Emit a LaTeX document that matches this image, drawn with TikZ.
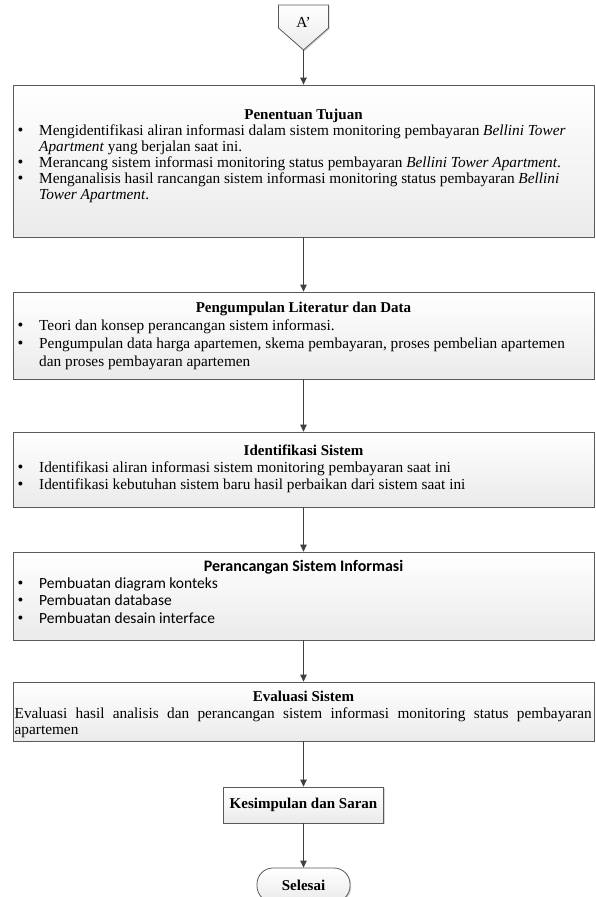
\documentclass[tikz,border=0pt]{standalone}
\usepackage{fontspec}
\setmainfont{Liberation Serif}
\newfontfamily\calfont{Carlito}
\usetikzlibrary{arrows.meta,shadows}
\definecolor{boxline}{HTML}{5A5A5A}
\definecolor{arrowc}{HTML}{404040}
\begin{document}
\begin{tikzpicture}[x=1pt,y=-1pt,
  box/.style={rectangle, draw=boxline, line width=0.8pt, top color=white, bottom color=gray!16,
    drop shadow={shadow xshift=1.2pt,shadow yshift=-1.2pt,fill=gray!70,opacity=0.45}, inner sep=0pt},
  flow/.style={draw=arrowc, line width=1pt, -{Triangle[length=7pt,width=6.5pt]}},
  fs/.style={font=\fontsize{15.3}{17}\selectfont},
  txt/.style={fs, anchor=base west, inner sep=0pt},
  ttl/.style={anchor=base, inner sep=0pt, font=\fontsize{15}{17}\selectfont\bfseries},
  bul/.style={anchor=base, inner sep=0pt, font=\fontsize{16.5}{17}\selectfont},
  stxt/.style={anchor=base west, inner sep=0pt, font=\calfont\fontsize{15.5}{17}\selectfont},
  sttl/.style={anchor=base, inner sep=0pt, font=\calfont\fontsize{16}{17}\selectfont\bfseries}
]
\useasboundingbox[fill=white] (0,0) rectangle (595,897);

% off-page connector
\draw[draw=boxline, line width=0.8pt, top color=white, bottom color=gray!16,
  drop shadow={shadow xshift=1.2pt,shadow yshift=-1.2pt,fill=gray!70,opacity=0.45}]
  (278.5,5) -- (328.5,5) -- (328.5,28) -- (303.5,50) -- (278.5,28) -- cycle;
\coordinate (tip) at (303.5,50);
\node[fs, inner sep=0pt] (conn) at (303.5,22) {A’};

% boxes
\node[box, minimum width=581pt, minimum height=152pt] (b1) at (303.5,161) {};
\node[box, minimum width=581pt, minimum height=87pt] (b2) at (303.5,335.5) {};
\node[box, minimum width=581pt, minimum height=75pt] (b3) at (303.5,469.5) {};
\node[box, minimum width=581pt, minimum height=88pt] (b4) at (303.5,596) {};
\node[box, minimum width=581pt, minimum height=59pt] (b5) at (303.5,711.5) {};
\node[box, minimum width=160pt, minimum height=36pt, font=\fontsize{15}{17}\selectfont\bfseries] (b6) at (303.5,805) {Kesimpulan dan Saran};
\node[box, rounded corners=16pt, minimum width=93pt, minimum height=34pt, font=\fontsize{15}{17}\selectfont\bfseries] (b7) at (303.5,885) {Selesai};

% box 1
\node[ttl] (t1) at (303.5,119.5) {Penentuan Tujuan};
\node[bul] (b1a) at (20.5,135.5) {\textbullet};
\node[txt] (l1a) at (39,135.5) {Mengidentifikasi aliran informasi dalam sistem monitoring pembayaran \textit{Bellini Tower}};
\node[txt] (l1b) at (39,151.5) {\textit{Apartment} yang berjalan saat ini.};
\node[bul] (b1b) at (20.5,167.5) {\textbullet};
\node[txt] (l1c) at (39,167.5) {Merancang sistem informasi monitoring status pembayaran \textit{Bellini Tower Apartment}.};
\node[bul] (b1c) at (20.5,183.5) {\textbullet};
\node[txt] (l1d) at (39,183.5) {Menganalisis hasil rancangan sistem informasi monitoring status pembayaran \textit{Bellini}};
\node[txt] (l1e) at (39,199.5) {\textit{Tower Apartment}.};

% box 2
\node[ttl] (t2) at (303.5,312) {Pengumpulan Literatur dan Data};
\node[bul] (b2a) at (20.5,330) {\textbullet};
\node[txt] (l2a) at (39,330) {Teori dan konsep perancangan sistem informasi.};
\node[bul] (b2b) at (20.5,348) {\textbullet};
\node[txt] (l2b) at (39,348) {Pengumpulan data harga apartemen, skema pembayaran, proses pembelian apartemen};
\node[txt] (l2c) at (39,366) {dan proses pembayaran apartemen};

% box 3
\node[ttl] (t3) at (303.5,455) {Identifikasi Sistem};
\node[bul] (b3a) at (20.5,472) {\textbullet};
\node[txt] (l3a) at (39,472) {Identifikasi aliran informasi sistem monitoring pembayaran saat ini};
\node[bul] (b3b) at (20.5,489) {\textbullet};
\node[txt] (l3b) at (39,489) {Identifikasi kebutuhan sistem baru hasil perbaikan dari sistem saat ini};

% box 4
\node[sttl] (t4) at (303.5,571) {Perancangan Sistem Informasi};
\node[bul] (b4a) at (20.5,588) {\textbullet};
\node[stxt] (l4a) at (39,588) {Pembuatan diagram konteks};
\node[bul] (b4b) at (20.5,605) {\textbullet};
\node[stxt] (l4b) at (39,605) {Pembuatan database};
\node[bul] (b4c) at (20.5,623) {\textbullet};
\node[stxt] (l4c) at (39,623) {Pembuatan desain interface};

% box 5
\node[ttl] (t5) at (303.5,701) {Evaluasi Sistem};
\node[txt] (l5a) at (14.5,718) {\makebox[577pt][s]{Evaluasi hasil analisis dan perancangan sistem informasi monitoring status pembayaran}};
\node[txt] (l5b) at (14.5,734) {apartemen};

% connectors
\draw[flow] (tip) -- (b1.north);
\draw[flow] (b1.south) -- (b2.north);
\draw[flow] (b2.south) -- (b3.north);
\draw[flow] (b3.south) -- (b4.north);
\draw[flow] (b4.south) -- (b5.north);
\draw[flow] (b5.south) -- (b6.north);
\draw[flow] (b6.south) -- (b7.north);
\end{tikzpicture}
\end{document}
